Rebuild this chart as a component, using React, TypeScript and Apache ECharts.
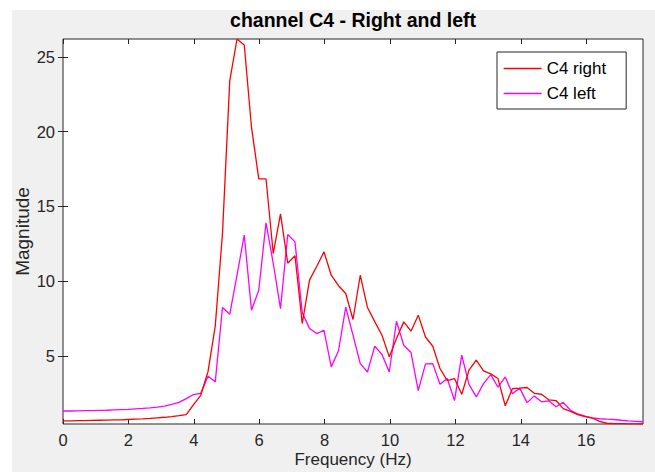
import React, { useEffect, useRef } from "react";
import * as echarts from "echarts";

// Frequency bins (Hz)
const frequencies = [
  0, 0.222, 0.443, 0.665, 0.887, 1.109, 1.33, 1.552, 1.774, 1.995,
  2.217, 2.439, 2.66, 2.882, 3.104, 3.326, 3.547, 3.769, 3.991, 4.212,
  4.434, 4.656, 4.877, 5.099, 5.321, 5.543, 5.764, 5.986, 6.208, 6.429,
  6.651, 6.873, 7.094, 7.316, 7.538, 7.76, 7.981, 8.203, 8.425, 8.646,
  8.868, 9.09, 9.311, 9.533, 9.755, 9.977, 10.198, 10.42, 10.642, 10.863,
  11.085, 11.307, 11.528, 11.75, 11.972, 12.194, 12.415, 12.637, 12.859, 13.08,
  13.302, 13.524, 13.745, 13.967, 14.189, 14.411, 14.632, 14.854, 15.076, 15.297,
  15.519, 15.741, 15.962, 16.184, 16.406, 16.628, 16.849, 17.071, 17.293, 17.514,
  17.736,
];

// Magnitude, C4 right
const c4Right = [
  0.66, 0.66, 0.67, 0.68, 0.69, 0.7, 0.71, 0.72, 0.73, 0.75,
  0.77, 0.79, 0.82, 0.86, 0.9, 0.95, 1.01, 1.08, 1.75, 2.37,
  3.95, 7.0, 13.2, 23.4, 26.2, 25.8, 20.3, 16.85, 16.85, 11.85,
  14.5, 11.2, 11.7, 7.17, 10.07, 11.0, 11.96, 10.4, 9.7, 9.18,
  7.44, 10.4, 8.24, 7.3, 6.39, 4.94, 6.17, 7.28, 6.66, 7.73,
  6.27, 5.65, 4.16, 3.35, 3.49, 2.44, 4.05, 4.72, 4.0, 3.8,
  3.49, 1.67, 2.82, 2.85, 2.89, 2.5, 2.44, 2.07, 2.02, 1.48,
  1.3, 1.08, 0.94, 0.85, 0.62, 0.5, 0.48, 0.47, 0.46, 0.46,
  0.45,
];

// Magnitude, C4 left
const c4Left = [
  1.32, 1.32, 1.33, 1.34, 1.35, 1.36, 1.37, 1.39, 1.41, 1.43,
  1.46, 1.49, 1.53, 1.58, 1.65, 1.76, 1.9, 2.15, 2.42, 2.5,
  3.65, 3.27, 8.24, 7.79, 10.4, 13.08, 8.06, 9.4, 13.9, 11.2,
  8.17, 13.12, 12.63, 7.9, 6.84, 6.5, 6.72, 4.27, 5.35, 8.26,
  6.39, 4.49, 3.93, 5.66, 5.1, 3.93, 7.32, 5.72, 5.23, 2.68,
  4.47, 4.49, 3.11, 3.49, 2.02, 5.05, 3.1, 2.26, 3.15, 3.75,
  2.91, 3.6, 2.47, 2.85, 1.88, 2.33, 1.93, 2.0, 1.6, 1.9,
  1.37, 1.12, 0.97, 0.86, 0.8, 0.77, 0.75, 0.7, 0.66, 0.63,
  0.6,
];

const xTicks = [0, 2, 4, 6, 8, 10, 12, 14, 16];
const yTicks = [5, 10, 15, 20, 25];
const seriesNames = ["C4 right", "C4 left"];

const FONT = "Liberation Sans, Arial, Helvetica, sans-serif";
const AX = "#262626";

export default function App() {
  const ref = useRef<HTMLDivElement>(null);

  useEffect(() => {
    if (!ref.current) return;
    const chart = echarts.init(ref.current, undefined, { renderer: "svg" });
    const xMax = frequencies[frequencies.length - 1];
    const yMin = 0.45;
    const yMax = 26.2;

    const hiddenAxisCommon = {
      axisLine: { show: false },
      splitLine: { show: false },
    };

    chart.setOption({
      animation: false,
      backgroundColor: "#ffffff",
      textStyle: { fontFamily: FONT },
      graphic: [
        {
          type: "rect",
          z: -100,
          silent: true,
          shape: { x: 12, y: 10, width: 643, height: 462 },
          style: { fill: "#f0f0f0" },
        },
        {
          type: "text",
          x: 353,
          y: 20,
          style: {
            text: "channel C4 - Right and left",
            font: `bold 19.5px ${FONT}`,
            fill: "#000",
            textAlign: "center",
            textVerticalAlign: "middle",
          },
        },
      ],
      grid: {
        left: 63,
        right: 12,
        top: 39,
        bottom: 48,
        containLabel: false,
        outerBoundsMode: "none",
        show: true,
        backgroundColor: "#ffffff",
        borderColor: AX,
        borderWidth: 1,
      },
      legend: {
        data: seriesNames,
        orient: "vertical",
        left: 497,
        top: 52,
        padding: [8, 20, 7, 6],
        itemGap: 8,
        itemWidth: 38,
        itemHeight: 14,
        backgroundColor: "#ffffff",
        borderColor: AX,
        borderWidth: 1,
        borderRadius: 0,
        itemStyle: { opacity: 0 },
        lineStyle: { width: 1.3 },
        textStyle: { fontSize: 17, color: "#000", fontFamily: FONT },
      },
      xAxis: [
        {
          type: "value",
          min: 0,
          max: xMax,
          position: "bottom",
          name: "Frequency (Hz)",
          nameLocation: "middle",
          nameMoveOverlap: false,
          nameGap: 27,
          nameTextStyle: { fontSize: 17, color: AX, fontFamily: FONT },
          axisLine: { show: false },
          splitLine: { show: false },
          axisTick: { show: true, inside: true, length: 5, lineStyle: { color: AX }, customValues: xTicks },
          axisLabel: { show: true, customValues: xTicks, fontSize: 16.5, color: AX, margin: 7, fontFamily: FONT },
        },
        {
          type: "value",
          min: 0,
          max: xMax,
          position: "top",
          ...hiddenAxisCommon,
          axisTick: { show: true, inside: true, length: 5, lineStyle: { color: AX }, customValues: xTicks },
          axisLabel: { show: false },
        },
      ],
      yAxis: [
        {
          type: "value",
          min: yMin,
          max: yMax,
          position: "left",
          name: "Magnitude",
          nameLocation: "middle",
          nameMoveOverlap: false,
          nameGap: 31,
          nameTextStyle: { fontSize: 19, color: AX, fontFamily: FONT },
          axisLine: { show: false },
          splitLine: { show: false },
          axisTick: { show: true, inside: true, length: 5, lineStyle: { color: AX }, customValues: yTicks },
          axisLabel: { show: true, customValues: yTicks, fontSize: 16.5, color: AX, margin: 8, fontFamily: FONT },
        },
        {
          type: "value",
          min: yMin,
          max: yMax,
          position: "right",
          ...hiddenAxisCommon,
          axisTick: { show: true, inside: true, length: 5, lineStyle: { color: AX }, customValues: yTicks },
          axisLabel: { show: false },
        },
      ],
      series: [
        {
          name: seriesNames[0],
          type: "line",
          data: frequencies.map((f, i) => [f, c4Right[i]]),
          symbol: "none",
          showSymbol: false,
          lineStyle: { color: "#ff0000", width: 1.3 },
          itemStyle: { color: "#ff0000" },
          z: 3,
        },
        {
          name: seriesNames[1],
          type: "line",
          data: frequencies.map((f, i) => [f, c4Left[i]]),
          symbol: "none",
          showSymbol: false,
          lineStyle: { color: "#ff00ff", width: 1.3 },
          itemStyle: { color: "#ff00ff" },
          z: 2,
        },
      ],
    });

    return () => chart.dispose();
  }, []);

  return (
    <div
      ref={ref}
      style={{ position: "absolute", left: 0, top: 0, width: 655, height: 472 }}
    />
  );
}
